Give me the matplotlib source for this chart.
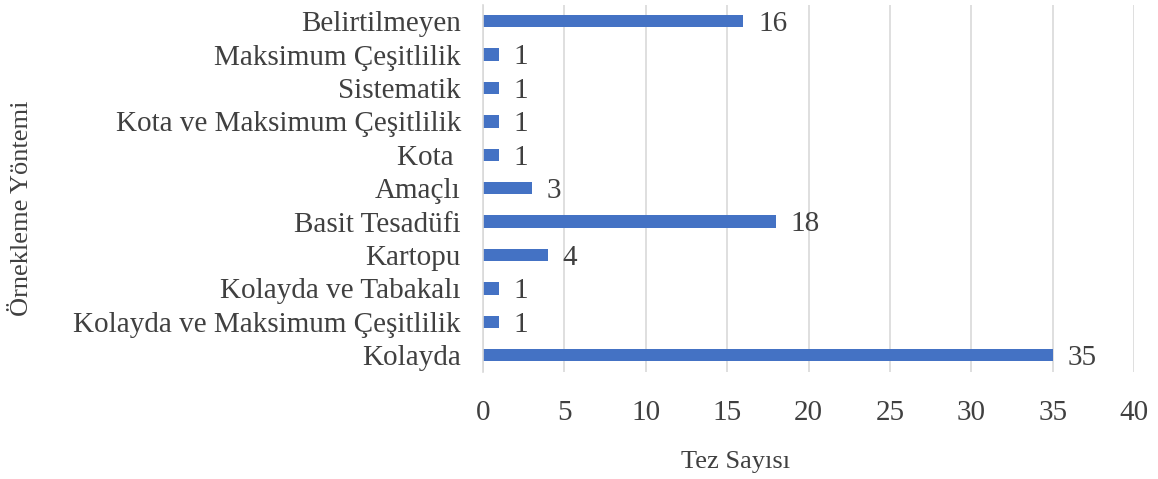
import matplotlib
matplotlib.use('Agg')
import matplotlib.pyplot as plt

TEXT_COLOR = '#404040'
BAR_COLOR = '#4472C4'
GRID_COLOR = '#D9D9D9'

categories = ['Kolayda', 'Kolayda ve Maksimum Çeşitlilik', 'Kolayda ve Tabakalı',
              'Kartopu', 'Basit Tesadüfi', 'Amaçlı', 'Kota ',
              'Kota ve Maksimum Çeşitlilik', 'Sistematik',
              'Maksimum Çeşitlilik', 'Belirtilmeyen']
counts = [35, 1, 1, 4, 18, 3, 1, 1, 1, 1, 16]
x_ticks = [0, 5, 10, 15, 20, 25, 30, 35, 40]

plt.rcParams['font.family'] = ['Liberation Serif', 'DejaVu Serif']

fig = plt.figure(figsize=(11.58, 4.79), dpi=100)
ax = fig.add_axes([483/1158, 1 - 372/479, (1134 - 483)/1158, (372 - 4.5)/479])

y = range(len(categories))
bars = ax.barh(y, counts, height=0.37, color=BAR_COLOR, zorder=2)
for b, v in zip(bars, counts):
    ax.text(b.get_width() + 0.9, b.get_y() + b.get_height()/2 - 0.08, str(v),
            ha='left', va='center', fontsize=21, color=TEXT_COLOR)

ax.set_xlim(0, 40)
ax.set_ylim(-0.5, len(categories) - 0.5)
ax.set_xticks(x_ticks)
ax.set_yticks(list(y))
ax.set_yticklabels(categories)
ax.tick_params(axis='both', length=0, labelsize=21, colors=TEXT_COLOR)
ax.tick_params(axis='x', pad=20)
ax.tick_params(axis='y', pad=16)
ax.xaxis.grid(True, color=GRID_COLOR, linewidth=1.2, zorder=0)
for s in ['top', 'right', 'bottom']:
    ax.spines[s].set_visible(False)
ax.spines['left'].set_color(GRID_COLOR)
ax.spines['left'].set_linewidth(1.2)

fig.text(736/1158, 1 - 462/479, 'Tez Sayısı', ha='center', va='center',
         fontsize=19, color=TEXT_COLOR)
fig.text(22/1158, 1 - 208/479, 'Örnekleme Yöntemi', ha='center', va='center',
         rotation=90, fontsize=19, color=TEXT_COLOR)

fig.savefig('out.png', dpi=100, facecolor='white')
plt.close()
